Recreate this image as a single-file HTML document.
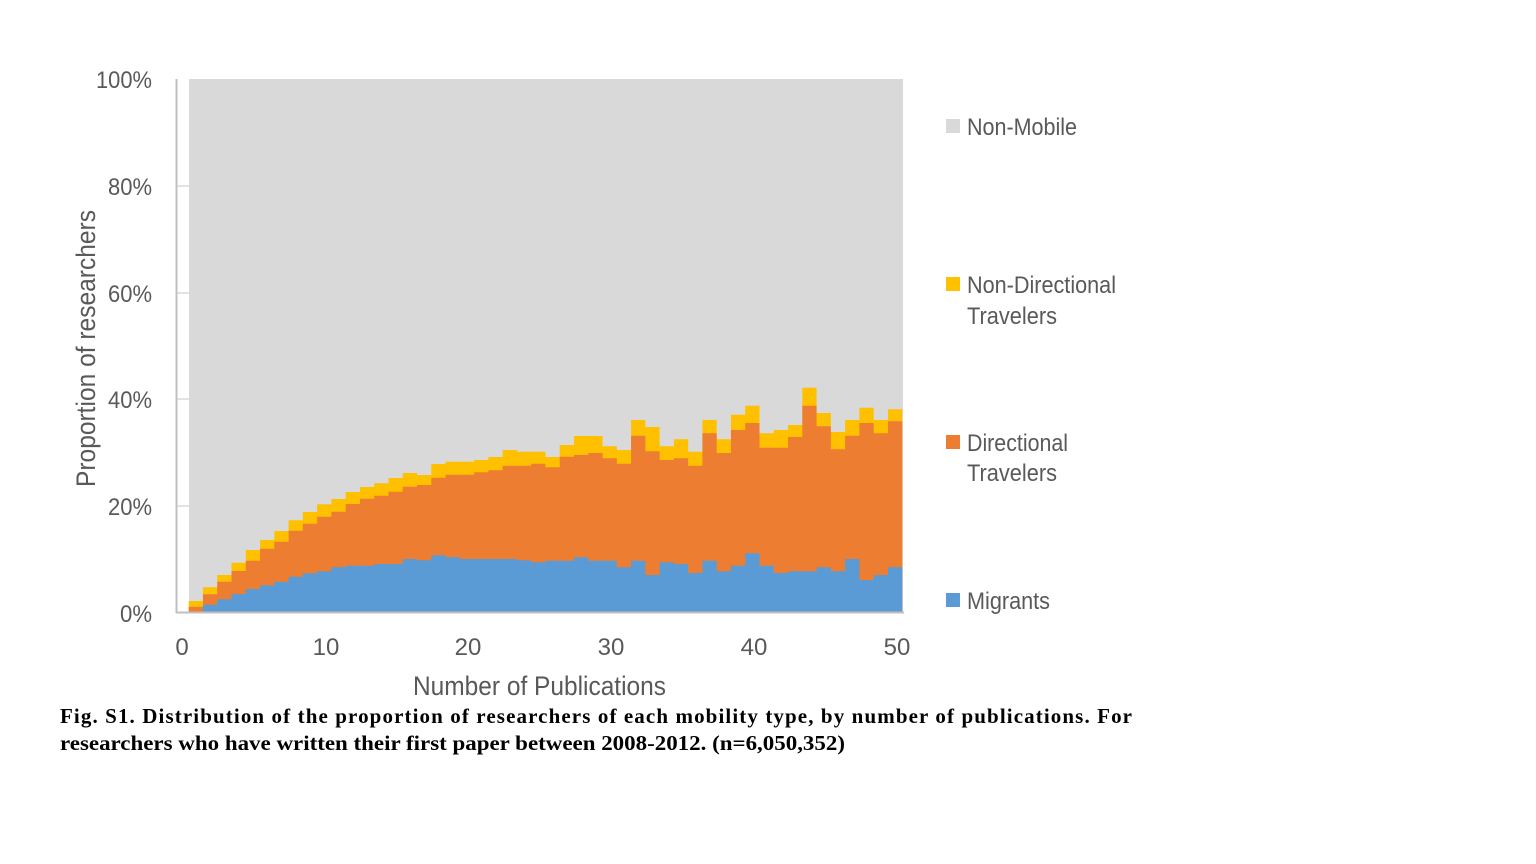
<!DOCTYPE html>
<html><head><meta charset="utf-8"><style>
html,body{margin:0;padding:0;background:#fff;width:1536px;height:864px;overflow:hidden}
svg{display:block}
</style></head><body>
<svg width="1536" height="864" viewBox="0 0 1536 864" xmlns="http://www.w3.org/2000/svg">
<rect x="189" y="79" width="714" height="533" fill="#d9d9d9"/>
<g transform="translate(174.43,0) scale(14.27,1)">
<path fill="#ffc000" d="M1,612 V601 H2 V587.3 H3 V575 H4 V562.7 H5 V550 H6 V540 H7 V531 H8 V520.3 H9 V512 H10 V504.3 H11 V499 H12 V492 H13 V487 H14 V483.3 H15 V478 H16 V473 H17 V475 H18 V464 H19 V461.7 H20 V461.7 H21 V460 H22 V457 H23 V450 H24 V451.7 H25 V451.7 H26 V457 H27 V445 H28 V436 H29 V436 H30 V446.3 H31 V450 H32 V420 H33 V427 H34 V446.3 H35 V439.3 H36 V451.7 H37 V420 H38 V439.3 H39 V414.7 H40 V405.7 H41 V433.3 H42 V430 H43 V425 H44 V387.7 H45 V413 H46 V432 H47 V420 H48 V407.7 H49 V420 H50 V409.3 H51 V612 Z"/>
<path fill="#ed7d31" d="M1,612 V606.7 H2 V594.3 H3 V581.7 H4 V571 H5 V560.7 H6 V548.7 H7 V541.7 H8 V530.7 H9 V523.7 H10 V516.7 H11 V511.7 H12 V504 H13 V498.7 H14 V495.7 H15 V491.7 H16 V486.7 H17 V485 H18 V477.7 H19 V474.7 H20 V474.7 H21 V472.3 H22 V470.3 H23 V465.7 H24 V465.7 H25 V463.7 H26 V467.3 H27 V456.7 H28 V455 H29 V453 H30 V458.3 H31 V463.7 H32 V435.7 H33 V451.3 H34 V460 H35 V458.3 H36 V465.7 H37 V433.3 H38 V453 H39 V430 H40 V423 H41 V447.7 H42 V447.7 H43 V437 H44 V405.7 H45 V426.3 H46 V449.3 H47 V435.7 H48 V423 H49 V433.3 H50 V421.3 H51 V612 Z"/>
<path fill="#5b9bd5" d="M1,612 V612 H2 V604.7 H3 V599.3 H4 V594 H5 V589 H6 V585.3 H7 V581.7 H8 V576.7 H9 V573.3 H10 V571.3 H11 V567.3 H12 V565.7 H13 V565.7 H14 V564 H15 V564 H16 V559 H17 V560.3 H18 V555.3 H19 V557.3 H20 V559 H21 V559 H22 V559 H23 V559 H24 V560.3 H25 V562.3 H26 V560.7 H27 V560.7 H28 V557.3 H29 V560.7 H30 V560.7 H31 V567.3 H32 V560.7 H33 V575 H34 V562.3 H35 V564 H36 V573 H37 V560.7 H38 V571.3 H39 V565.7 H40 V553.3 H41 V565.7 H42 V573 H43 V571.3 H44 V571.3 H45 V567.3 H46 V571.3 H47 V559 H48 V580 H49 V575 H50 V567.3 H51 V612 Z"/>
</g>
<g stroke="#d9d9d9" stroke-width="1.5">
<line x1="177" y1="186" x2="189" y2="186"/><line x1="177" y1="293" x2="189" y2="293"/>
<line x1="177" y1="399" x2="189" y2="399"/><line x1="177" y1="506" x2="189" y2="506"/>
</g>
<g stroke="#bfbfbf" stroke-width="2">
<line x1="176.5" y1="79" x2="176.5" y2="613"/>
<line x1="176" y1="612.5" x2="904" y2="612.5"/>
</g>
<g font-family="Liberation Sans, sans-serif" font-size="24" fill="#595959">
<g text-anchor="end">
<text x="152" y="88" textLength="56" lengthAdjust="spacingAndGlyphs">100%</text>
<text x="152" y="195" textLength="44" lengthAdjust="spacingAndGlyphs">80%</text>
<text x="152" y="302" textLength="44" lengthAdjust="spacingAndGlyphs">60%</text>
<text x="152" y="408" textLength="44" lengthAdjust="spacingAndGlyphs">40%</text>
<text x="152" y="515" textLength="44" lengthAdjust="spacingAndGlyphs">20%</text>
<text x="152" y="622" textLength="32" lengthAdjust="spacingAndGlyphs">0%</text>
</g>
<g text-anchor="middle">
<text x="182" y="655">0</text><text x="326" y="655">10</text><text x="468" y="655">20</text>
<text x="611" y="655">30</text><text x="754" y="655">40</text><text x="897" y="655">50</text>
</g>
<text x="413" y="695" font-size="27" textLength="253" lengthAdjust="spacingAndGlyphs">Number of Publications</text>
<text transform="translate(95,487) rotate(-90)" font-size="27" textLength="277" lengthAdjust="spacingAndGlyphs">Proportion of researchers</text>
<rect x="946" y="119" width="14" height="14" fill="#d9d9d9"/>
<text x="967" y="135" textLength="110" lengthAdjust="spacingAndGlyphs">Non-Mobile</text>
<rect x="946" y="277" width="14" height="14" fill="#ffc000"/>
<text x="967" y="293" textLength="149" lengthAdjust="spacingAndGlyphs">Non-Directional</text>
<text x="967" y="324" textLength="90" lengthAdjust="spacingAndGlyphs">Travelers</text>
<rect x="946" y="435" width="14" height="14" fill="#ed7d31"/>
<text x="967" y="451" textLength="101" lengthAdjust="spacingAndGlyphs">Directional</text>
<text x="967" y="481" textLength="90" lengthAdjust="spacingAndGlyphs">Travelers</text>
<rect x="946" y="593" width="14" height="14" fill="#5b9bd5"/>
<text x="967" y="609" textLength="83" lengthAdjust="spacingAndGlyphs">Migrants</text>
</g>
<g font-family="Liberation Serif, serif" font-size="21" font-weight="bold" fill="#000">
<text x="60" y="723" textLength="1072" lengthAdjust="spacing">Fig. S1. Distribution of the proportion of researchers of each mobility type, by number of publications. For</text>
<text x="60" y="750" textLength="785" lengthAdjust="spacingAndGlyphs">researchers who have written their first paper between 2008-2012. (n=6,050,352)</text>
</g>
</svg>
</body></html>
